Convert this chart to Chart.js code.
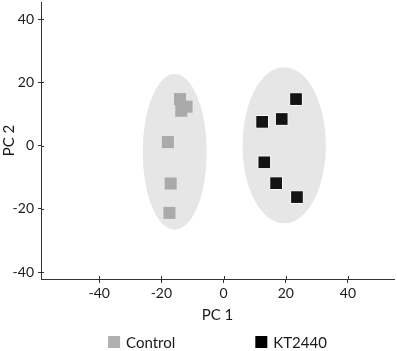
<!DOCTYPE html>
<html>
<head>
<meta charset="utf-8">
<script src="https://cdn.jsdelivr.net/npm/chart.js@4/dist/chart.umd.min.js"></script>
<style>
html,body{margin:0;padding:0;background:#fff;}
#wrap{width:397px;height:351px;position:relative;}
</style>
</head>
<body>
<div id="wrap"><canvas id="c" width="397" height="351"></canvas></div>
<script>
// ---- data ----
const seriesNames = ['Control', 'KT2440'];
const controlX = [-14.0, -11.9, -13.6, -17.9, -17.0, -17.4];
const controlY = [14.7, 12.3, 11.0, 1.1, -12.0, -21.3];
const ktX = [23.3, 18.7, 12.4, 13.1, 16.9, 23.6];
const ktY = [14.7, 8.4, 7.5, -5.3, -11.9, -16.3];
// confidence ellipses (centre and half-axes in data units)
const ellipseCx = [-15.7, 19.5];
const ellipseCy = [-2.0, 0.1];
const ellipseRx = [10.3, 13.4];
const ellipseRy = [24.6, 24.7];
const xTicks = [-40, -20, 0, 20, 40];
const yTicks = [-40, -20, 0, 20, 40];
const xTitle = 'PC 1';
const yTitle = 'PC 2';

const toPts = (xs, ys) => xs.map((x, i) => ({x: x, y: ys[i]}));

const ellipsePlugin = {
  id: 'ellipses',
  beforeDatasetsDraw(chart) {
    const {ctx, scales: {x, y}, chartArea} = chart;
    ctx.save();
    ctx.beginPath();
    ctx.rect(chartArea.left, chartArea.top, chartArea.right - chartArea.left, chartArea.bottom - chartArea.top);
    ctx.clip();
    ctx.fillStyle = '#e6e6e6';
    for (let i = 0; i < ellipseCx.length; i++) {
      const cx = x.getPixelForValue(ellipseCx[i]);
      const cy = y.getPixelForValue(ellipseCy[i]);
      const rx = Math.abs(x.getPixelForValue(ellipseCx[i] + ellipseRx[i]) - cx);
      const ry = Math.abs(y.getPixelForValue(ellipseCy[i] + ellipseRy[i]) - cy);
      ctx.beginPath();
      ctx.ellipse(cx, cy, rx, ry, 0, 0, Math.PI * 2);
      ctx.fill();
    }
    ctx.restore();
  },
  afterDatasetsDraw(chart) {
    // inner half of the tick marks (ticks cross the axis line)
    const {ctx, scales: {x, y}, chartArea} = chart;
    ctx.save();
    ctx.strokeStyle = '#333';
    ctx.lineWidth = 1;
    ctx.beginPath();
    xTicks.forEach(v => {
      const px = Math.round(x.getPixelForValue(v)) + 0.5;
      ctx.moveTo(px, chartArea.bottom);
      ctx.lineTo(px, chartArea.bottom - 3);
    });
    yTicks.forEach(v => {
      const py = Math.round(y.getPixelForValue(v)) + 0.5;
      ctx.moveTo(chartArea.left, py);
      ctx.lineTo(chartArea.left + 3, py);
    });
    ctx.stroke();
    ctx.restore();
  }
};

const legendPlugin = {
  id: 'bottomLegend',
  afterDraw(chart) {
    const {ctx, chartArea} = chart;
    const font = '15px Lato, "Open Sans", sans-serif';
    ctx.save();
    ctx.font = font;
    ctx.textBaseline = 'middle';
    ctx.fillStyle = '#222';
    const box = 12, gap = 6, spacing = 80;
    const items = chart.data.datasets.map(ds => ({text: ds.label, color: ds.legendColor}));
    const widths = items.map(it => box + gap + ctx.measureText(it.text).width);
    const total = widths.reduce((a, b) => a + b, 0) + spacing * (items.length - 1);
    let xPos = (chartArea.left + chartArea.right) / 2 - total / 2;
    const yMid = chart.height - 8;
    items.forEach((it, i) => {
      ctx.fillStyle = it.color;
      ctx.fillRect(xPos, yMid - box / 2 - 1, box, box);
      ctx.fillStyle = '#1a1a1a';
      ctx.textAlign = 'left';
      ctx.fillText(it.text, xPos + box + gap, yMid);
      xPos += widths[i] + spacing;
    });
    ctx.restore();
  }
};

const tickFont = {family: 'Lato, "Open Sans", sans-serif', size: 14};
const titleFont = {family: 'Lato, "Open Sans", sans-serif', size: 15};

new Chart(document.getElementById('c'), {
  type: 'scatter',
  data: {
    datasets: [
      {
        label: seriesNames[0],
        data: toPts(controlX, controlY),
        pointStyle: 'rect',
        pointRadius: 8.5,
        backgroundColor: '#aaaaaa',
        borderWidth: 0,
        legendColor: '#b0b0b0'
      },
      {
        label: seriesNames[1],
        data: toPts(ktX, ktY),
        pointStyle: 'rect',
        pointRadius: 9,
        backgroundColor: '#141414',
        borderColor: '#ffffff',
        borderWidth: 1,
        legendColor: '#000000'
      }
    ]
  },
  options: {
    responsive: false,
    animation: false,
    events: [],
    layout: {autoPadding: false, padding: {top: 2, right: 3, bottom: 27, left: 0}},
    plugins: {
      legend: {display: false},
      tooltip: {enabled: false}
    },
    scales: {
      x: {
        type: 'linear',
        min: -58.7,
        max: 54.8,
        afterBuildTicks: s => { s.ticks = xTicks.map(v => ({value: v})); },
        afterFit: s => { s.height = 45; s.paddingLeft = 0; s.paddingRight = 0; },
        border: {color: '#333', width: 1},
        grid: {display: true, drawOnChartArea: false, drawTicks: true, tickLength: 4, color: '#333'},
        ticks: {font: tickFont, color: '#1a1a1a', padding: 2, maxRotation: 0},
        title: {display: true, text: xTitle, font: titleFont, color: '#1a1a1a', padding: 0}
      },
      y: {
        type: 'linear',
        min: -42.2,
        max: 45.4,
        afterBuildTicks: s => { s.ticks = yTicks.map(v => ({value: v})); },
        afterFit: s => { s.width = 41; s.paddingTop = 0; s.paddingBottom = 0; },
        border: {color: '#333', width: 1},
        grid: {display: true, drawOnChartArea: false, drawTicks: true, tickLength: 3, color: '#333'},
        ticks: {font: tickFont, color: '#1a1a1a', padding: 4},
        title: {display: true, text: yTitle, font: titleFont, color: '#1a1a1a', padding: 0}
      }
    }
  },
  plugins: [ellipsePlugin, legendPlugin]
});
</script>
</body>
</html>
